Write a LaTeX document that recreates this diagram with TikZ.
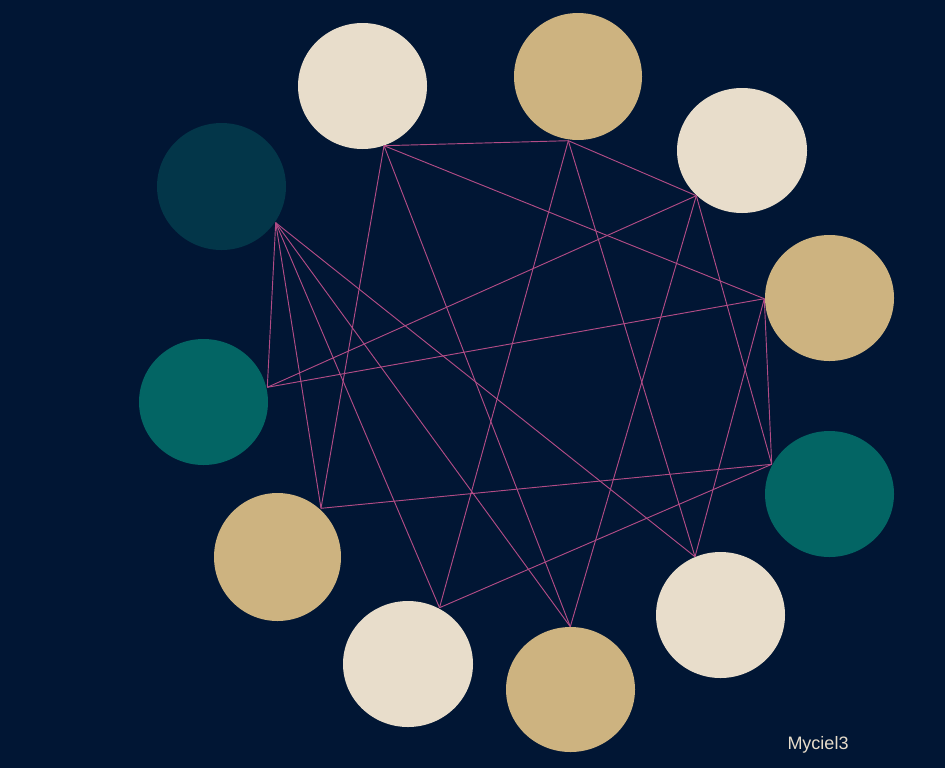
\documentclass[tikz,border=0pt]{standalone}
\usepackage{fontspec}
\setmainfont{Liberation Sans}
\usepackage{tikz}

\definecolor{bgblue}{HTML}{011634}
\definecolor{cream}{HTML}{E8DDCB}
\definecolor{sand}{HTML}{CDB380}
\definecolor{sea}{HTML}{036564}
\definecolor{deepsea}{HTML}{033649}
\definecolor{edgepink}{RGB}{178,76,134}

\begin{document}
\begin{tikzpicture}[x=0.75pt, y=-0.75pt]
        % Fonas
        \fill[bgblue] (0,0) rectangle (945,768);
        \useasboundingbox (0,0) rectangle (945,768);

        % Virsunes
        \fill[cream]   (362.5,86)   ellipse (64.5 and 63);
        \fill[sand]    (578,76.5)   ellipse (64 and 63.5);
        \fill[cream]   (742,150.5)  ellipse (65 and 62.5);
        \fill[sand]    (829.5,298)  ellipse (64.5 and 63);
        \fill[sea]     (829.5,494)  ellipse (64.5 and 63);
        \fill[cream]   (720.5,615)  ellipse (64.5 and 63);
        \fill[sand]    (570.5,689.5) ellipse (64.5 and 62.5);
        \fill[cream]   (408,664)    ellipse (65 and 63);
        \fill[sand]    (277.5,557)  ellipse (63.5 and 64);
        \fill[sea]     (203.5,402)  ellipse (64.5 and 63);
        \fill[deepsea] (221.5,186.5) ellipse (64.5 and 63.5);

        % Briaunu galai
        \coordinate (a1)  at (384,145.7);
        \coordinate (a2)  at (568.3,140.7);
        \coordinate (a3)  at (696.3,195.7);
        \coordinate (a4)  at (764.3,298.7);
        \coordinate (a5)  at (771.7,464.3);
        \coordinate (a6)  at (695,556.7);
        \coordinate (a7)  at (570.3,626.7);
        \coordinate (a8)  at (439.5,607.7);
        \coordinate (a9)  at (321,508.3);
        \coordinate (a10) at (267.3,387.3);
        \coordinate (a11) at (275.7,222.7);

        % Briaunos
        \foreach \p/\q in {a1/a2, a2/a3, a3/a5, a5/a4, a4/a1,
                           a6/a2, a6/a4, a7/a1, a7/a3, a8/a2,
                           a8/a5, a9/a1, a9/a5, a10/a3, a10/a4,
                           a11/a6, a11/a7, a11/a8, a11/a9, a11/a10}
            \draw[edgepink, line width=0.7pt] (\p) -- (\q);

        % Pavadinimas
        \node[text=cream, font=\fontsize{13.5}{16}\selectfont] (title) at (818,745) {Myciel3};
    \end{tikzpicture}
\end{document}
